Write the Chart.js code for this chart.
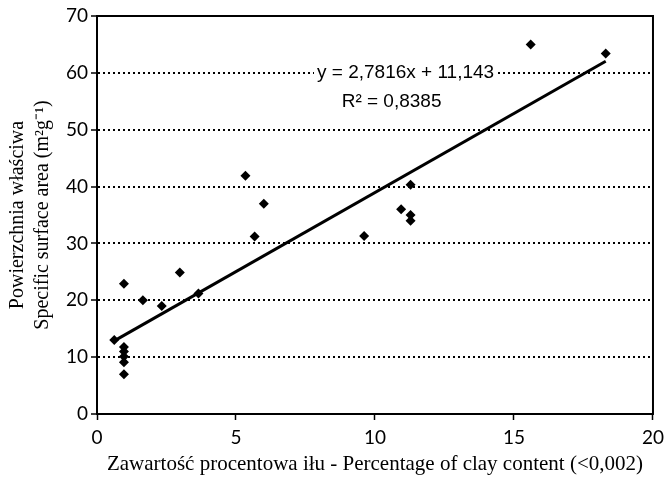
<!DOCTYPE html>
<html>
<head>
<meta charset="utf-8">
<script src="https://cdn.jsdelivr.net/npm/chart.js@4"></script>
<style>
    html, body { margin: 0; padding: 0; background: #fff; }
    #wrap { width: 670px; height: 477px; }
</style>
</head>
<body>
<div id="wrap"><canvas id="clayChart"></canvas></div>
<script>
// udział iłu (%) i powierzchnia właściwa (m2/g)
const clayPct = [0.62, 0.97, 0.97, 0.97, 0.97, 0.97, 0.97, 1.65, 2.33, 2.98, 3.65,
    5.34, 5.67, 6.0, 9.61, 10.94, 11.28, 11.28, 11.28, 15.6, 18.3];
const surfaceArea = [13.0, 22.9, 11.8, 11.0, 10.1, 9.1, 7.0, 20.0, 19.0, 24.9, 21.2,
    41.9, 31.2, 37.0, 31.3, 36.0, 40.3, 35.0, 34.0, 65.0, 63.4];
const xTicks = [0, 5, 10, 15, 20];
const yTicks = [0, 10, 20, 30, 40, 50, 60, 70];

// linia trendu z równania regresji
const slope = 2.7816;
const intercept = 11.143;
const rSquared = '0,8385';
const eqText = 'y = 2,7816x + 11,143';

const xMin = Math.min(...clayPct);
const xMax = Math.max(...clayPct);
const trend = [xMin, xMax].map(x => ({x: x, y: slope * x + intercept}));

const points = clayPct.map((x, i) => ({x: x, y: surfaceArea[i]}));

// ramka wokół wykresu + opis równania
const framePlugin = {
    id: 'frame',
    beforeDatasetsDraw(chart) {
        const a = chart.chartArea;
        const ctx = chart.ctx;
        ctx.save();
        ctx.strokeStyle = '#000';
        ctx.lineWidth = 2;
        ctx.strokeRect(a.left, a.top, a.right - a.left, a.bottom - a.top);
        ctx.restore();
    },
    afterDraw(chart) {
        const ctx = chart.ctx;
        const xs = chart.scales.x, ys = chart.scales.y;
        const cx = xs.getPixelForValue(11.1);
        const cy = ys.getPixelForValue(60);
        ctx.save();
        ctx.font = '19px "Liberation Sans", Arial, sans-serif';
        ctx.textAlign = 'center';
        ctx.textBaseline = 'middle';
        const w = ctx.measureText(eqText).width;
        ctx.fillStyle = '#fff';
        ctx.fillRect(cx - w / 2 - 3, cy - 10, w + 6, 20);
        ctx.fillStyle = '#000';
        ctx.fillText(eqText, cx, cy);
        ctx.fillText('R² = ' + rSquared, cx - 14, cy + 29);
        ctx.restore();
    }
};

const chart = new Chart(document.getElementById('clayChart'), {
    type: 'scatter',
    data: {
        datasets: [
            {
                data: points,
                pointStyle: 'rectRot',
                pointRadius: 5,
                pointHoverRadius: 5,
                backgroundColor: '#000',
                borderColor: '#000',
                borderWidth: 0,
                order: 2
            },
            {
                type: 'line',
                data: trend,
                borderColor: '#000',
                borderWidth: 3,
                pointRadius: 0,
                fill: false,
                order: 1
            }
        ]
    },
    options: {
        responsive: true,
        maintainAspectRatio: false,
        animation: false,
        devicePixelRatio: 1,
        layout: {padding: {top: 16, right: 12, left: 0, bottom: 0}},
        plugins: {
            legend: {display: false},
            tooltip: {enabled: false}
        },
        scales: {
            x: {
                type: 'linear',
                min: 0,
                max: 20,
                afterBuildTicks(scale) {
                    scale.ticks = xTicks.map(v => ({value: v}));
                },
                afterFit(scale) {
                    scale.height = 63;
                },
                ticks: {
                    color: '#000',
                    font: {family: 'Lato', size: 19},
                    padding: 6,
                    maxRotation: 0
                },
                grid: {
                    drawOnChartArea: false,
                    drawTicks: true,
                    tickLength: 6,
                    tickColor: '#000',
                    tickWidth: 1.5
                },
                border: {display: true, color: '#000', width: 2},
                title: {
                    display: true,
                    text: 'Zawartość procentowa iłu - Percentage of clay content (<0,002)',
                    color: '#000',
                    font: {family: '"Liberation Serif", "Times New Roman", serif', size: 21},
                    padding: {top: 0, bottom: 0}
                }
            },
            y: {
                type: 'linear',
                min: 0,
                max: 70,
                afterBuildTicks(scale) {
                    scale.ticks = yTicks.map(v => ({value: v}));
                },
                afterFit(scale) {
                    scale.width = 97;
                },
                ticks: {
                    color: '#000',
                    font: {family: 'Lato', size: 19},
                    padding: 3
                },
                grid: {
                    color: ctx => (ctx.tick && ctx.tick.value > 0 && ctx.tick.value < 70) ? '#000' : 'rgba(0,0,0,0)',
                    lineWidth: 2,
                    drawTicks: true,
                    tickLength: 6,
                    tickColor: '#000',
                    tickWidth: 1.5,
                    tickBorderDash: []
                },
                border: {display: true, color: '#000', width: 2, dash: [2, 3]},
                title: {
                    display: true,
                    text: ['Powierzchnia właściwa', 'Specific surface area (m²g⁻¹)'],
                    color: '#000',
                    font: {family: '"Liberation Serif", "Times New Roman", serif', size: 20, lineHeight: 1.25},
                    padding: {top: 5, bottom: 0}
                }
            }
        }
    },
    plugins: [framePlugin]
});
</script>
</body>
</html>
